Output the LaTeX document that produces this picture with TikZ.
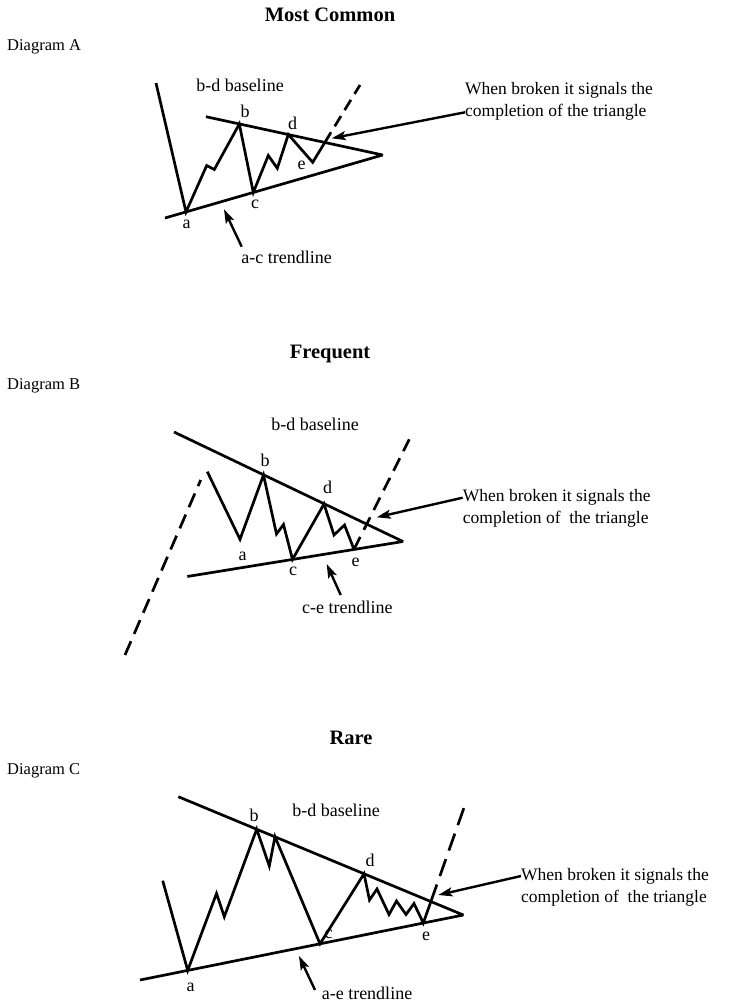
\documentclass[tikz,border=0pt]{standalone}
\usepackage{fontspec}
\setmainfont{Liberation Serif}
\usetikzlibrary{arrows.meta}
\begin{document}
\begin{tikzpicture}[x=1pt,y=-1pt,
  trend/.style={line width=2.7pt, line join=bevel},
  wave/.style={line width=2.7pt, line join=miter},
  brk/.style={line width=2.7pt, dash pattern=on 13pt off 7pt},
  pointer/.style={line width=2.4pt, -{Stealth[length=14pt,width=9pt,inset=3pt]}},
  lbl/.style={font=\fontsize{18}{20}\selectfont, inner sep=0pt},
  note/.style={font=\fontsize{17.5}{21}\selectfont, anchor=west, inner sep=0pt},
  ttl/.style={font=\fontsize{20.5}{24}\selectfont\bfseries, inner sep=0pt},
  diag/.style={font=\fontsize{16.5}{20}\selectfont, anchor=west, inner sep=0pt}]
\fill[white] (0,0) rectangle (731,1004);
\useasboundingbox (0,0) rectangle (731,1004);

% ---------------- Diagram A ----------------
\node[ttl] (tA) at (330,15) {Most Common};
\node[diag] (dA) at (7,47) {Diagram A};
\coordinate (Aul) at (206,116.7);
\coordinate (Aapex) at (382.7,155);
\coordinate (All) at (165,218);
\coordinate (A0) at (156,83);
\coordinate (Aa) at (186,212);
\coordinate (A1) at (206.7,165.5);
\coordinate (A2) at (214.3,169.5);
\coordinate (Ab) at (239.3,124);
\coordinate (Ac) at (253.3,192.4);
\coordinate (A3) at (268.3,155.5);
\coordinate (A4) at (277.3,168.3);
\coordinate (Ad) at (288.3,134.5);
\coordinate (Ae) at (312.7,162.3);
\coordinate (Ax) at (324.8,142.5);
\coordinate (Atop) at (360,85);
\draw[trend] (Aul) -- (Aapex) -- (All);
\draw[wave] (A0) -- (Aa) -- (A1) -- (A2) -- (Ab) -- (Ac) -- (A3) -- (A4) -- (Ad) -- (Ae) -- (Ax);
\draw[brk, dash pattern=on 12pt off 7pt] (Ax) -- (Atop);
\node[lbl] (Alb) at (245,111) {b};
\node[lbl] (Ald) at (292.7,123) {d};
\node[lbl] (Ale) at (301.7,165) {e};
\node[lbl] (Alc) at (255,204) {c};
\node[lbl] (Ala) at (186.7,224) {a};
\node[lbl] (Abd) at (240,85) {b-d baseline};
\node[lbl] (Aac) at (286.7,257) {a-c trendline};
\coordinate (Aactail) at (241.7,246.7);
\coordinate (Aactip) at (224,209.3);
\draw[pointer] (Aactail) -- (Aactip);
\node[note] (An1) at (465,90.7) {When broken it signals the};
\node[note] (An2) at (465,112.3) {completion of the triangle};
\coordinate (Atip) at (331.7,138.3);
\draw[pointer] (An2.west) -- (Atip);

% ---------------- Diagram B ----------------
\node[ttl] (tB) at (330,354) {Frequent};
\node[diag] (dB) at (7,386) {Diagram B};
\coordinate (Bul) at (174,432);
\coordinate (Bapex) at (403,541.5);
\coordinate (Bll) at (187.3,576.5);
\coordinate (B0) at (207.3,471.7);
\coordinate (B1) at (240,539.3);
\coordinate (Bb) at (263.5,475);
\coordinate (B2) at (276.5,534);
\coordinate (B3) at (283.5,524.5);
\coordinate (Bc) at (292.5,559.4);
\coordinate (Bd) at (324,504);
\coordinate (B4) at (334,535);
\coordinate (B5) at (344.5,525);
\coordinate (Be) at (354,549.4);
\coordinate (Btop) at (409.3,439.3);
\coordinate (Bdl1) at (125,655);
\coordinate (Bdl2) at (200.7,480);
\draw[trend] (Bul) -- (Bapex) -- (Bll);
\draw[wave] (B0) -- (B1) -- (Bb) -- (B2) -- (B3) -- (Bc) -- (Bd) -- (B4) -- (B5) -- (Be);
\draw[brk, dash pattern=on 14pt off 8pt] (Be) -- (Btop);
\draw[brk, dash pattern=on 15pt off 8pt] (Bdl1) -- (Bdl2);
\node[lbl] (Blb) at (265,460) {b};
\node[lbl] (Bld) at (327.7,487.7) {d};
\node[lbl] (Bla) at (242.7,556.7) {a};
\node[lbl] (Blc) at (293,571.7) {c};
\node[lbl] (Ble) at (355.5,562.5) {e};
\node[lbl] (Bbd) at (315,424) {b-d baseline};
\node[lbl] (Bce) at (347.3,607) {c-e trendline};
\coordinate (Bcetail) at (340.7,595);
\coordinate (Bcetip) at (326.7,564);
\draw[pointer] (Bcetail) -- (Bcetip);
\node[note] (Bn1) at (462.7,497.7) {When broken it signals the};
\node[note] (Bn2) at (462.7,519.3) {completion of~ the triangle};
\coordinate (Btip) at (376.7,517.3);
\draw[pointer] (Bn1.west) -- (Btip);

% ---------------- Diagram C ----------------
\node[ttl] (tC) at (351,738) {Rare};
\node[diag] (dC) at (7,771) {Diagram C};
\coordinate (Cul) at (178.3,796.7);
\coordinate (Capex) at (463.3,915);
\coordinate (Cll) at (140,980);
\coordinate (C0) at (162.7,880.7);
\coordinate (Ca) at (187.7,970.4);
\coordinate (C1) at (216.5,893.5);
\coordinate (C2) at (224.3,916.7);
\coordinate (Cb) at (256.7,829.2);
\coordinate (C3) at (269.3,866);
\coordinate (C4) at (275,836.7);
\coordinate (Cc) at (320,943.8);
\coordinate (Cd) at (364,873.8);
\coordinate (C5) at (369.5,900);
\coordinate (C6) at (377,889);
\coordinate (C7) at (389,914.5);
\coordinate (C8) at (396.5,901);
\coordinate (C9) at (406,914.5);
\coordinate (C10) at (414,903.5);
\coordinate (Ce) at (423.3,923);
\coordinate (Cx) at (430.9,901.5);
\coordinate (Ctop) at (466.7,800);
\draw[trend] (Cul) -- (Capex) -- (Cll);
\draw[wave] (C0) -- (Ca) -- (C1) -- (C2) -- (Cb) -- (C3) -- (C4) -- (Cc) -- (Cd) -- (C5) -- (C6) -- (C7) -- (C8) -- (C9) -- (C10) -- (Ce) -- (Cx);
\draw[brk, dash pattern=on 18pt off 9pt] (Cx) -- (Ctop);
\node[lbl] (Clb) at (254,815) {b};
\node[lbl] (Cld) at (370,860) {d};
\node[lbl] (Clc) at (328.5,934) {c};
\node[lbl] (Cle) at (426,936.7) {e};
\node[lbl] (Cla) at (190.5,987) {a};
\node[lbl] (Cbd) at (336,810) {b-d baseline};
\node[lbl] (Cae) at (367,993) {a-e trendline};
\coordinate (Caetail) at (315,990);
\coordinate (Caetip) at (299,956);
\draw[pointer] (Caetail) -- (Caetip);
\node[note] (Cn1) at (521,876) {When broken it signals the};
\node[note] (Cn2) at (521,898) {completion of~ the triangle};
\coordinate (Ctip) at (438.3,895);
\draw[pointer] (Cn1.west) -- (Ctip);
\end{tikzpicture}
\end{document}
